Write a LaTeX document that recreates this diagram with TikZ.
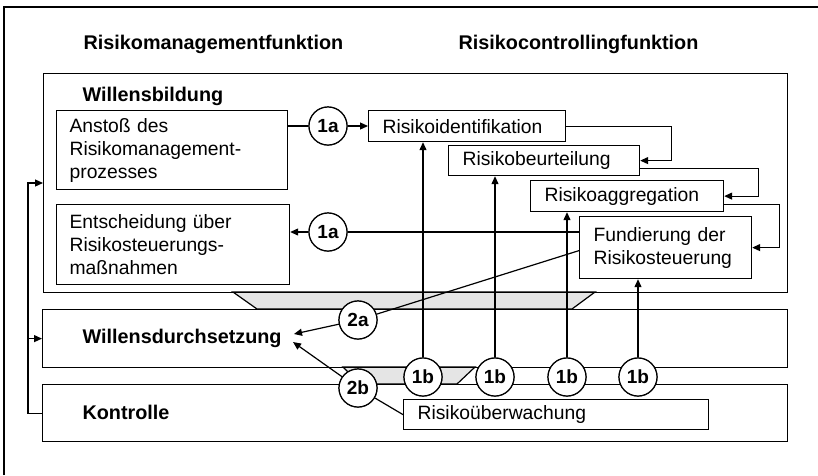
\documentclass[tikz,border=0pt]{standalone}
\usepackage{fontspec}
\setmainfont{Liberation Sans}
\usetikzlibrary{arrows.meta}
\begin{document}
\begin{tikzpicture}[x=1pt,y=-1pt,
  line width=1.2pt, line join=miter,
  bigbox/.style={draw, rectangle, inner sep=0pt, anchor=north west},
  txtbox/.style={draw, rectangle, fill=white, anchor=north west, align=left, inner xsep=14pt, inner ysep=0pt, font=\fontsize{19.3}{23}\selectfont},
  lbl/.style={anchor=west, inner sep=0pt, font=\fontsize{19.8}{23}\selectfont\bfseries},
  num/.style={draw, circle, fill=white, minimum size=38pt, inner sep=0pt, font=\fontsize{19}{23}\selectfont\bfseries},
  arr/.style={-{Triangle[length=8pt,width=7pt]}},
  shadearea/.style={fill=gray!20, draw}
]
\useasboundingbox (0,0) rectangle (818,475);
% outer frame
\draw[line width=1.3pt] (4,475) -- (4,7) -- (818,7);
% headers
\node[lbl] (hman) at (83,44) {Risikomanagementfunktion};
\node[lbl] (hcon) at (458,44) {Risikocontrollingfunktion};
% shaded transitions
\path[shadearea] (233,292) -- (595,292) -- (572,309) -- (257,309) -- cycle;
\path[shadearea] (343,367) -- (475,367) -- (457,384) -- (360,384) -- cycle;
% big boxes
\node[bigbox, minimum width=744pt, minimum height=219pt] (wb) at (43,73) {};
\node[bigbox, minimum width=745pt, minimum height=58pt] (wd) at (42,309) {};
\node[bigbox, minimum width=745pt, minimum height=57pt] (ko) at (42,384) {};
\node[lbl] (twb) at (82,96) {Willensbildung};
\node[lbl] (twd) at (82,338) {Willensdurchsetzung};
\node[lbl] (tko) at (82,412) {Kontrolle};
% text boxes
\node[txtbox, text width=205pt, minimum height=79pt, inner xsep=13pt] (anst) at (56,110) {Ansto\ss{} des\\Risikomanagement-\\prozesses};
\node[txtbox, text width=207pt, minimum height=80pt, inner xsep=13pt] (ents) at (56,204) {Entscheidung über\\Risikosteuerungs-\\maßnahmen};
\node[txtbox, text width=169pt, minimum height=31pt] (ident) at (368,110) {Risikoidentifikation};
\node[txtbox, text width=163pt, minimum height=30pt] (beur) at (448,145) {Risikobeurteilung};
\node[txtbox, text width=165pt, minimum height=31pt] (aggr) at (530,180) {Risikoaggregation};
\node[txtbox, text width=144pt, minimum height=62pt] (fund) at (579,216) {Fundierung der\\Risikosteuerung};
\node[txtbox, text width=277pt, minimum height=30pt] (ueber) at (403,399) {Risikoüberwachung};
% circles
\node[num] (c1aa) at (328,126) {1a};
\node[num] (c1ab) at (328,232) {1a};
\node[num] (c1ba) at (423,377) {1b};
\node[num] (c1bb) at (495,377) {1b};
\node[num] (c1bc) at (567,377) {1b};
\node[num] (c1bd) at (638,377) {1b};
\node[num] (c2a) at (358,320) {2a};
\node[num] (c2b) at (358,388) {2b};
\coordinate (tipA) at (294,334);
\coordinate (tipB) at (293,342);
\coordinate (wbin) at (43,183);
\coordinate (fbx) at (28,183);
% connectors
\draw (anst.east |- c1aa) -- (c1aa);
\draw[arr] (c1aa) -- (ident.west |- c1aa);
\draw (fund.west |- c1ab) -- (c1ab);
\draw[arr] (c1ab) -- (ents.east |- c1ab);
\draw[arr] (ident.east) -- ++(105,0) |- (beur.east);
\draw[arr] ([yshift=-8pt]beur.east) -- ++(118,0) |- (aggr.east);
\draw[arr] ([yshift=-8pt]aggr.east) -- ++(55,0) |- (fund.east);
\draw[arr] (c1ba) -- (c1ba |- ident.south);
\draw[arr] (c1bb) -- (c1bb |- beur.south);
\draw[arr] (c1bc) -- (c1bc |- aggr.south);
\draw[arr] (c1bd) -- (c1bd |- fund.south);
\draw ([yshift=-3pt]fund.west) -- (c2a);
\draw[arr] (c2a) -- (tipA);
\draw[arr] (c2b) -- (tipB);
\draw (c2b) -- (ueber.west);
\draw[arr] (ko.west) -| (fbx) -- (wbin);
\draw[arr] (fbx |- wd.west) -- (wd.west);
% redraw circles on top
\node[num] at (c1aa) {1a};
\node[num] at (c1ab) {1a};
\node[num] at (c1ba) {1b};
\node[num] at (c1bb) {1b};
\node[num] at (c1bc) {1b};
\node[num] at (c1bd) {1b};
\node[num] at (c2a) {2a};
\node[num] at (c2b) {2b};
\end{tikzpicture}
\end{document}
